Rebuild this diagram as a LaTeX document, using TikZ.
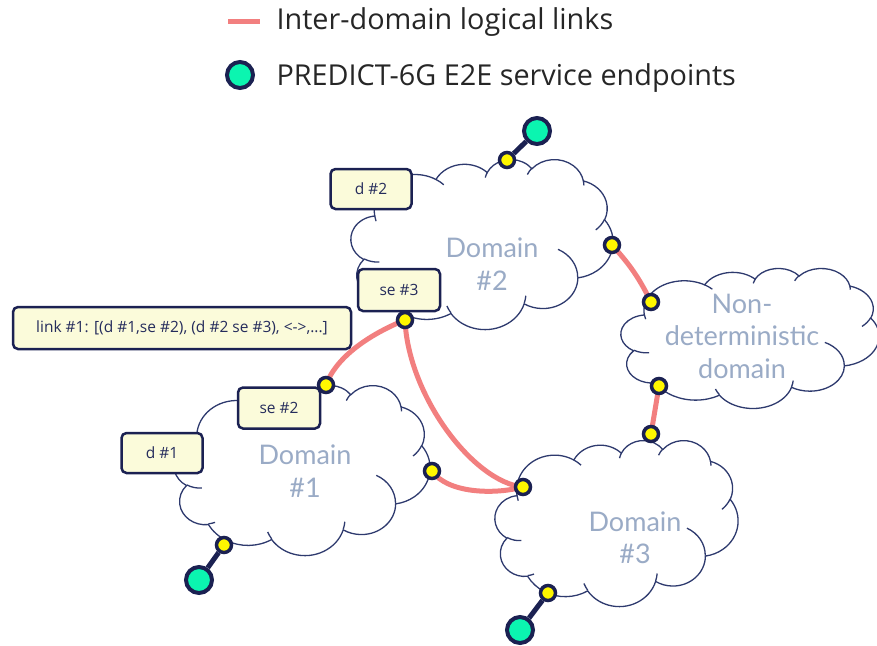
\documentclass[tikz,border=0pt]{standalone}
\usepackage{fontspec}
\setmainfont{Open Sans}
\newfontfamily\labelfont{Lato}
\definecolor{navy}{HTML}{1B2152}
\definecolor{cloudc}{HTML}{2E3A6E}
\definecolor{boxfill}{HTML}{FBFBDA}
\definecolor{dotyellow}{HTML}{FFF700}
\definecolor{mint}{HTML}{0BF5B0}
\definecolor{linkred}{HTML}{F27F7F}
\definecolor{cloudtext}{HTML}{9AABC6}
\definecolor{boxtext}{HTML}{252C5C}
\pgfdeclarelayer{bg}\pgfdeclarelayer{mid}\pgfsetlayers{bg,mid,main}
% arc given with DrawingML "visual" angles
\newcommand\cloudcalc[4]{%
  \pgfmathsetmacro\cTs{atan2((#1)*sin(#3),(#2)*cos(#3))}%
  \pgfmathsetmacro\cTe{atan2((#1)*sin((#3)+(#4)),(#2)*cos((#3)+(#4)))}%
  \pgfmathsetmacro\cDa{\cTe-\cTs}%
  \ifdim\cDa pt<0pt \pgfmathsetmacro\cDa{\cDa+360}\fi}
\newcommand\carc[4]{\pgfextra{\cloudcalc{#1}{#2}{#3}{#4}} arc[start angle=\cTs, delta angle=\cDa, x radius=#1, y radius=#2]}
\newcommand\mycloud[4]{%
\begin{scope}[shift={(#1,#2)}, xscale=#3/432, yscale=#4/432]
 \path[cloudline, fill=white] (39.00,143.70) \carc{67.53}{91.90}{-190.4875}{123.7805}
  \carc{53.33}{72.67}{-144.1024}{89.9452}
  \carc{43.65}{59.45}{-145.8079}{99.7230}
  \carc{48.57}{65.95}{-130.9861}{117.2417}
  \carc{53.33}{72.73}{-78.7089}{109.0269}
  \carc{67.75}{92.20}{-46.2673}{130.2690}
  \carc{57.85}{78.67}{0.6250}{114.0333}
  \carc{67.52}{92.15}{22.4516}{115.1726}
  \carc{77.20}{105.43}{66.2426}{75.7110}
  \carc{43.60}{59.18}{-274.9421}{146.7356}
  \carc{43.45}{59.45}{-246.8285}{152.5189} -- cycle;
 \draw[cloudline] (46.93,261.77) \carc{43.45}{59.45}{86.7420}{26.4295}
  (69.28,348.99) \carc{43.60}{59.18}{73.6105}{11.4475}
  (164.78,390.90) \carc{67.52}{92.15}{137.6242}{14.0811}
  (288.27,347.51) \carc{67.52}{92.15}{6.4533}{15.9984}
  (341.29,229.54) \carc{57.85}{78.67}{-70.2924}{70.9174}
  (417.98,153.54) \carc{53.33}{72.73}{30.3180}{27.7515};
 \draw[cloudline] (383.24,54.26) \carc{48.57}{65.95}{-13.7443}{14.8589}
  (290.78,39.52) \carc{48.57}{65.95}{-149.1815}{18.1954}
  (221.41,47.20) \carc{43.65}{59.45}{-163.4943}{17.6864}
  (140.00,51.92) \carc{67.53}{91.90}{-66.7070}{12.3194}
  (41.27,157.89) \carc{67.53}{91.90}{157.6544}{11.8582};
\end{scope}}
\begin{document}
\begin{tikzpicture}[x=1pt,y=-1pt,
  cloudline/.style={draw=cloudc, line width=1.3pt},
  cloudlabel/.style={text=cloudtext, align=center, font=\labelfont\fontsize{27}{32.5}\selectfont},
  infobox/.style={draw=navy, fill=boxfill, line width=2.5pt, rounded corners=5pt, inner sep=0pt, text=boxtext, font=\fontsize{15.5}{17}\selectfont},
  ydot/.style={circle, draw=navy, fill=dotyellow, line width=3.5pt, minimum size=15pt, inner sep=0pt},
  gdot/.style={circle, draw=navy, fill=mint, line width=4pt, minimum size=26pt, inner sep=0pt},
  redlink/.style={draw=linkred, line width=5pt},
  epline/.style={draw=navy, line width=5pt},
  legendtext/.style={anchor=base west, text=black!85, font=\fontsize{28.8}{32}\selectfont}]
\useasboundingbox (0,0) rectangle (877,645);

% legend
\coordinate (la) at (228,21);
\coordinate (lb) at (260,21);
\draw[redlink] (la) -- (lb);
\node[legendtext] (lt1) at (273,29) {Inter-domain logical links};
\node[gdot] (lg) at (240,75) {};
\node[legendtext] (lt2) at (273,85) {PREDICT-6G E2E service endpoints};

% clouds
\begin{pgfonlayer}{bg}
\mycloud{351}{159}{262}{170}
\mycloud{174}{385}{256}{170}
\mycloud{495}{440}{243}{166}
\mycloud{621}{268}{258}{140}
\end{pgfonlayer}

\node[cloudlabel] (lab2) at (492,264) {Domain\\\#2};
\node[cloudlabel] (lab1) at (305,471) {Domain\\\#1};
\node[cloudlabel] (lab3) at (635,538) {Domain\\\#3};
\node[cloudlabel] (labn) at (742,336) {Non-\\deterministic\\domain};

% boxes
\node[infobox, minimum width=81pt, minimum height=40pt] (bd2) at (371,189) {d \#2};
\node[infobox, minimum width=82pt, minimum height=42pt] (bse3) at (399,290) {se \#3};
\node[infobox, minimum width=338pt, minimum height=42pt] (blink) at (182,328) {link \#1: [(d \#1,se \#2), (d \#2 se \#3), <->,...]};
\node[infobox, minimum width=82pt, minimum height=41pt] (bse2) at (279,408) {se \#2};
\node[infobox, minimum width=81pt, minimum height=40pt] (bd1) at (162,453) {d \#1};

% dots
\node[ydot] (d2t) at (507,160) {};
\node[ydot] (d2r) at (612,245) {};
\node[ydot] (ndt) at (651,302) {};
\node[ydot] (ndb) at (659,386) {};
\node[ydot] (d3t) at (651,434) {};
\node[ydot] (se3) at (405,320) {};
\node[ydot] (se2) at (326,385) {};
\node[ydot] (d1r) at (432,471) {};
\node[ydot] (d3l) at (523,487) {};
\node[ydot] (d1b) at (224,545) {};
\node[ydot] (d3b) at (548,593) {};

% endpoints
\node[gdot] (g2) at (537,131) {};
\node[gdot] (g1) at (199,580) {};
\node[gdot] (g3) at (520,630) {};
\draw[epline] (d2t) -- (g2);
\draw[epline] (d1b) -- (g1);
\draw[epline] (d3b) -- (g3);

% inter-domain links
\begin{pgfonlayer}{mid}
\draw[redlink] (d2r.center) to[bend left=8] (ndt.center);
\draw[redlink] (ndb.center) -- (d3t.center);
\draw[redlink] (se3.center) .. controls +(-25,10) and +(12,-33) .. (se2.center);
\draw[redlink] (se3.center) .. controls +(3,75) and +(-50,-5) .. (d3l.center);
\draw[redlink] (d1r.center) .. controls +(15,22) and +(-30,8) .. (d3l.center);
\end{pgfonlayer}
\end{tikzpicture}
\end{document}
